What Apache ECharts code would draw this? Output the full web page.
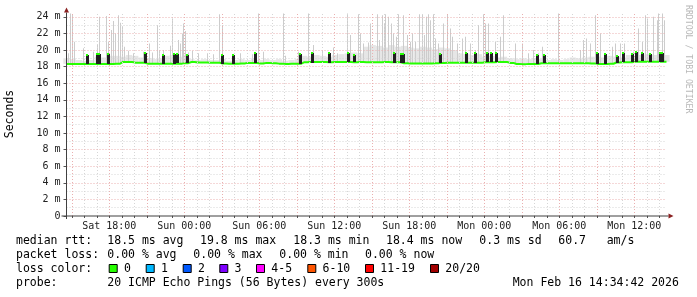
<!DOCTYPE html>
<html><head><meta charset="utf-8">
<script src="https://cdn.jsdelivr.net/npm/echarts@6/dist/echarts.min.js"></script>
<style>html,body{margin:0;padding:0;background:#fff}#c{width:697px;height:297px}</style>
</head><body><div id="c"></div>
<script>
// ---- time frame: hours since Sat 00:00 ----
const START_H = 14 + 34/60 + 42/3600;   // Sat 14:34:42
const SPAN_H = 48;
const Y_MAX = 24.4;

const xTickHours  = [18, 24, 30, 36, 42, 48, 54, 60];
const xTickLabels = ['Sat 18:00','Sun 00:00','Sun 06:00','Sun 12:00','Sun 18:00','Mon 00:00','Mon 06:00','Mon 12:00'];
const xMajorGridHours = [15,18,21,24,27,30,33,36,39,42,45,48,51,54,57,60];
const xMinorGridHours = [16,17,19,20,22,23,25,26,28,29,31,32,34,35,37,38,40,41,43,44,46,47,49,50,52,53,55,56,58,59,61,62];
const yTicks      = [0,2,4,6,8,10,12,14,16,18,20,22,24];
const yTickLabels = ['0','2 m','4 m','6 m','8 m','10 m','12 m','14 m','16 m','18 m','20 m','22 m','24 m'];
const yMinorGrid  = [1,3,5,7,9,11,13,15,17,19,21,23];

// median rtt (ms), every 30 min from start (97 samples)
const medianBase = [
 18.32,18.33,18.31,18.32,18.32,18.33,18.32,18.32,18.34,
 18.55,18.56,18.48,18.47,
 18.36,18.35,18.34,18.36,18.35,18.36,18.42,18.55,
 18.50,18.49,18.48,18.47,18.37,18.36,18.36,18.38,18.45,18.44,
 18.37,18.45,18.40,18.36,18.33,18.34,18.34,
 18.52,18.55,18.56,18.55,18.54,18.55,18.56,18.55,18.54,18.55,18.53,18.52,18.54,18.55,18.53,18.52,
 18.40,18.38,18.38,18.39,18.38,18.40,
 18.45,18.46,18.47,18.48,18.46,18.47,18.48,
 18.52,18.54,18.56,18.55,18.45,
 18.31,18.30,18.31,18.32,
 18.40,18.41,18.40,18.42,18.41,18.40,18.41,18.40,18.39,
 18.33,18.32,18.34,18.50,18.52,18.53,
 18.58,18.59,18.58,18.60,18.59,18.58
];
// upper edge of the dense smoke band (ms), every 30 min
const smokeBandTop = [
 19.0,18.9,18.8,18.7,18.8,19.2,19.1,19.3,
 19.3,19.2,19.4,19.3,19.1,19.0,18.9,19.0,
 19.3,19.4,19.2,19.4,18.9,18.8,18.9,18.8,
 18.8,18.9,18.7,18.8,18.9,18.8,19.0,18.8,
 18.9,18.8,18.9,18.7,18.8,18.9,
 19.3,19.2,19.4,19.3,19.2,19.4,19.5,19.6,19.7,19.6,
 20.4,20.6,20.5,20.3,20.6,20.4,20.5,20.3,
 20.2,20.4,20.3,20.1,20.3,20.2,20.0,
 19.6,19.5,19.4,19.5,19.2,19.3,19.1,19.2,
 19.0,18.9,19.0,18.9,19.0,18.9,18.8,18.9,18.8,18.9,
 19.1,19.0,19.1,19.2,19.2,19.1,19.3,19.2,19.1,
 19.4,19.3,19.4,19.5,19.4,19.3,19.4
];
// outlier smoke spikes: hours after start, top (ms)
const smokeHours = [0.12,0.28,0.44,0.60,1.32,2.12,2.44,2.60,3.16,3.32,3.56,3.72,3.88,4.12,4.24,4.44,4.60,4.92,5.32,6.12,6.60,6.84,7.24,7.40,7.72,8.28,8.44,8.92,9.08,9.24,9.36,9.48,9.72,10.04,10.52,11.24,11.72,12.16,12.44,13.32,13.88,14.84,15.32,15.72,17.32,17.48,18.52,19.32,19.68,20.44,21.32,21.64,22.44,22.68,23.32,23.48,23.72,24.12,24.28,24.84,24.96,25.24,25.36,25.48,25.72,25.96,26.12,26.36,26.52,26.92,27.24,27.48,27.64,27.88,28.20,28.44,28.60,28.76,28.92,29.08,29.32,29.48,29.72,30.12,30.44,30.68,30.84,31.24,31.64,31.88,32.28,32.68,32.92,33.32,33.48,33.72,34.28,34.68,34.92,35.88,36.44,36.92,37.32,37.72,38.04,39.32,41.08,41.32,41.56,41.88,42.28,42.68,43.64,43.88,44.28,44.60,45.32,45.72,46.04,46.28,46.44,46.92,47.24,47.32,47.60,47.80];
const smokeTops  = [19.6,24.4,24.3,21.0,20.2,19.8,20.6,24.0,24.1,21.0,22.4,23.5,22.0,24.2,23.3,22.8,20.4,19.9,19.6,19.8,20.8,19.7,23.0,19.9,20.0,20.5,23.8,21.2,20.8,22.0,23.2,22.3,19.7,19.9,19.6,19.6,19.5,24.3,23.0,19.5,19.6,19.5,24.4,19.8,24.4,19.3,19.8,24.4,20.6,20.0,20.3,19.6,24.4,21.8,24.3,22.0,20.8,20.9,23.2,24.3,21.2,24.2,23.2,24.3,24.0,23.2,22.0,21.6,24.3,24.2,21.8,21.0,22.0,21.0,24.3,24.3,21.8,24.0,24.3,23.6,24.3,21.4,20.8,23.2,24.3,22.6,21.6,20.8,21.4,21.6,20.8,20.0,23.0,24.3,23.2,23.2,21.0,21.6,24.2,20.8,20.8,19.6,20.0,19.6,20.4,24.4,20.0,21.2,21.4,20.8,24.2,22.0,20.4,20.8,20.8,20.8,19.8,22.6,21.0,24.2,23.8,24.0,23.6,24.4,24.4,23.6];
// median jumps (dense dark smoke): hours after start, top (ms)
const jumpHours = [1.64,2.44,2.60,3.32,6.28,7.72,8.60,8.80,9.64,12.44,13.32,15.08,18.68,19.64,21.00,22.52,23.00,26.16,26.76,26.92,29.88,31.96,32.68,33.64,33.96,34.36,37.64,38.20,42.44,43.08,44.04,44.52,45.24,45.52,46.04,46.68,47.44,47.60];
const jumpTops  = [19.4,19.5,19.5,19.5,19.6,19.4,19.5,19.5,19.4,19.4,19.4,19.6,19.5,19.7,19.7,19.6,19.4,19.7,19.5,19.5,19.5,19.7,19.7,19.6,19.6,19.6,19.4,19.4,19.6,19.5,19.3,19.6,19.5,19.8,19.6,19.5,19.7,19.7];

// legend texts
const rttStats  = ['18.5 ms avg','19.8 ms max','18.3 ms min','18.4 ms now','0.3 ms sd','60.7','am/s'];
const lossStats = ['0.00 % avg','0.00 % max','0.00 % min','0.00 % now'];
const lossLabels = ['0','1','2','3','4-5','6-10','11-19','20/20'];
const lossColors = ['#26ff00','#00b8ff','#0059ff','#7e00ff','#ff00ff','#ff5500','#ff0000','#a10000'];
const probeText = '20 ICMP Echo Pings (56 Bytes) every 300s';
const dateText  = 'Mon Feb 16 14:34:42 2026';

// ---- build series data ----
const baseAt = h => medianBase[Math.max(0, Math.min(medianBase.length - 1, Math.round(h * 2)))];
const medianData = medianBase.map((v, i) => [START_H + i * 0.5, v]);
const bandData = medianBase.map((v, i) => [START_H + i * 0.5, v, smokeBandTop[i]]);
const smokeData = smokeHours.map((h, i) => [START_H + h, baseAt(h), smokeTops[i]]);
const jumpData = jumpHours.map((h, i) => [START_H + h, baseAt(h), jumpTops[i]]);

const FONT = '"DejaVu Sans Mono", monospace';
const MINOR = '#d6d6d6', MAJOR = '#eab0b0';
const gridLines = [];
xMinorGridHours.forEach(v => gridLines.push({xAxis: v, lineStyle: {color: MINOR, type: [1, 2], width: 1}}));
yMinorGrid.forEach(v => gridLines.push({yAxis: v, lineStyle: {color: MINOR, type: [1, 2], width: 1}}));
xMajorGridHours.forEach(v => gridLines.push({xAxis: v, lineStyle: {color: MAJOR, type: [1, 2], width: 1}}));
yTicks.filter(v => v > 0).forEach(v => gridLines.push({yAxis: v, lineStyle: {color: MAJOR, type: [1, 2], width: 1}}));

const chart = echarts.init(document.getElementById('c'), null, {renderer: 'canvas'});
const option = {
  animation: false,
  backgroundColor: '#ffffff',
  grid: {left: 66.5, right: 30.5, top: 13.5, bottom: 81},
  xAxis: {
    type: 'value', min: START_H, max: START_H + SPAN_H,
    axisLine: {show: false}, splitLine: {show: false},
    axisTick: {show: true, customValues: xMajorGridHours.concat(xMinorGridHours), length: 2, lineStyle: {color: '#555'}},
    axisLabel: {customValues: xTickHours, formatter: v => xTickLabels[xTickHours.indexOf(Math.round(v))] || '',
      margin: 5, fontFamily: FONT, fontSize: 10, color: '#222'}
  },
  yAxis: {
    type: 'value', min: 0, max: Y_MAX,
    axisLine: {show: false}, splitLine: {show: false},
    axisTick: {show: true, customValues: yTicks, length: 3, lineStyle: {color: '#555'}},
    axisLabel: {customValues: yTicks, formatter: v => yTickLabels[yTicks.indexOf(Math.round(v))] || '',
      margin: 6, fontFamily: FONT, fontSize: 10, color: '#222'}
  },
  series: [
    { // grid holder
      type: 'line', data: medianData, symbol: 'none', silent: true, z: 1,
      lineStyle: {opacity: 0},
      markLine: {silent: true, symbol: 'none', label: {show: false}, animation: false, data: gridLines}
    },
    { // dense smoke band
      type: 'custom', data: bandData, z: 2, silent: true,
      renderItem: (params, api) => {
        const x = api.value(0), lo = api.value(1), hi = api.value(2);
        const a = api.coord([x - 0.25, hi]), b = api.coord([x + 0.25, lo]);
        return {type: 'rect', shape: {x: a[0], y: a[1], width: b[0] - a[0], height: b[1] - a[1]},
          style: {fill: '#e6e6e6'}};
      }
    },
    { // outlier smoke spikes
      type: 'custom', data: smokeData, z: 3, silent: true,
      renderItem: (params, api) => {
        const x = api.value(0), lo = api.value(1), hi = api.value(2);
        const a = api.coord([x, hi]), b = api.coord([x, lo]);
        return {type: 'rect', shape: {x: Math.round(a[0]), y: a[1], width: 1, height: b[1] - a[1]},
          style: {fill: '#cccccc'}};
      }
    },
    { // median line
      type: 'line', data: medianData, step: 'middle', symbol: 'none', z: 4, silent: true,
      lineStyle: {color: '#26ff00', width: 2}
    },
    { // median jumps with dark dense smoke
      type: 'custom', data: jumpData, z: 5, silent: true,
      renderItem: (params, api) => {
        const x = api.value(0), lo = api.value(1), hi = api.value(2);
        const a = api.coord([x, hi]), b = api.coord([x, lo]);
        const px = Math.round(a[0]);
        return {type: 'group', children: [
          {type: 'rect', shape: {x: px - 1, y: Math.round(a[1]), width: 3, height: Math.round(b[1] - a[1])}, style: {fill: '#202020'}},
          {type: 'rect', shape: {x: px - 1, y: Math.round(a[1]) - 1, width: 2, height: 2}, style: {fill: '#26ff00'}}
        ]};
      }
    }
  ]
};
chart.setOption(option);

// axes with arrows and legend text
const p0 = chart.convertToPixel({gridIndex: 0}, [START_H, 0]);
const p1 = chart.convertToPixel({gridIndex: 0}, [START_H + SPAN_H, 0]);
const pt = chart.convertToPixel({gridIndex: 0}, [START_H, Y_MAX]);
const AX = '#404040', AR = '#8a2020';
const g = [
  {type: 'line', shape: {x1: p0[0] - 5, y1: p0[1], x2: p1[0] + 2, y2: p0[1]}, style: {stroke: AX, lineWidth: 1}, z: 10},
  {type: 'line', shape: {x1: p0[0], y1: p0[1] + 3, x2: p0[0], y2: pt[1] - 1}, style: {stroke: AX, lineWidth: 1}, z: 10},
  {type: 'polygon', shape: {points: [[p1[0] + 2, p0[1] - 2.5], [p1[0] + 7, p0[1]], [p1[0] + 2, p0[1] + 2.5]]}, style: {fill: AR}, z: 10},
  {type: 'polygon', shape: {points: [[p0[0] - 2.5, pt[1] - 1], [p0[0], pt[1] - 6], [p0[0] + 2.5, pt[1] - 1]]}, style: {fill: AR}, z: 10},
  {type: 'text', x: 10.5, y: 114, rotation: Math.PI / 2,
    style: {text: 'Seconds', font: '11.5px ' + FONT, fill: '#000', align: 'center', verticalAlign: 'middle'}},
  {type: 'text', x: 688, y: 5, rotation: -Math.PI / 2,
    style: {text: 'RRDTOOL / TOBI OETIKER', font: '8.2px ' + FONT, fill: '#b8b8b8', align: 'left', verticalAlign: 'middle'}}
];
const T = (text, x, y) => ({type: 'text', x: x, y: y,
  style: {text: text, font: '11.5px ' + FONT, fill: '#000', align: 'left', verticalAlign: 'middle'}});
const rttX = [107.3, 200, 293.3, 386, 479.3, 558.3, 606.7];
const lossX = [107.3, 193.3, 279.3, 365];
const boxX = [108.7, 145.7, 182.7, 219.3, 256, 307.3, 365, 430];
g.push(T('median rtt:', 16, 241.5));
rttStats.forEach((s, i) => g.push(T(s, rttX[i], 241.5)));
g.push(T('packet loss:', 16, 255.5));
lossStats.forEach((s, i) => g.push(T(s, lossX[i], 255.5)));
g.push(T('loss color:', 16, 269));
lossLabels.forEach((s, i) => {
  g.push({type: 'rect', shape: {x: boxX[i] + 0.5, y: 264.5, width: 8, height: 8},
    style: {fill: lossColors[i], stroke: '#000', lineWidth: 1}});
  g.push(T(s, boxX[i] + 15.3, 269));
});
g.push(T('probe:', 16, 283.5));
g.push(T(probeText, 107.3, 283.5));
g.push(T(dateText, 512.7, 283.5));
chart.setOption({graphic: g});
</script>
</body></html>
